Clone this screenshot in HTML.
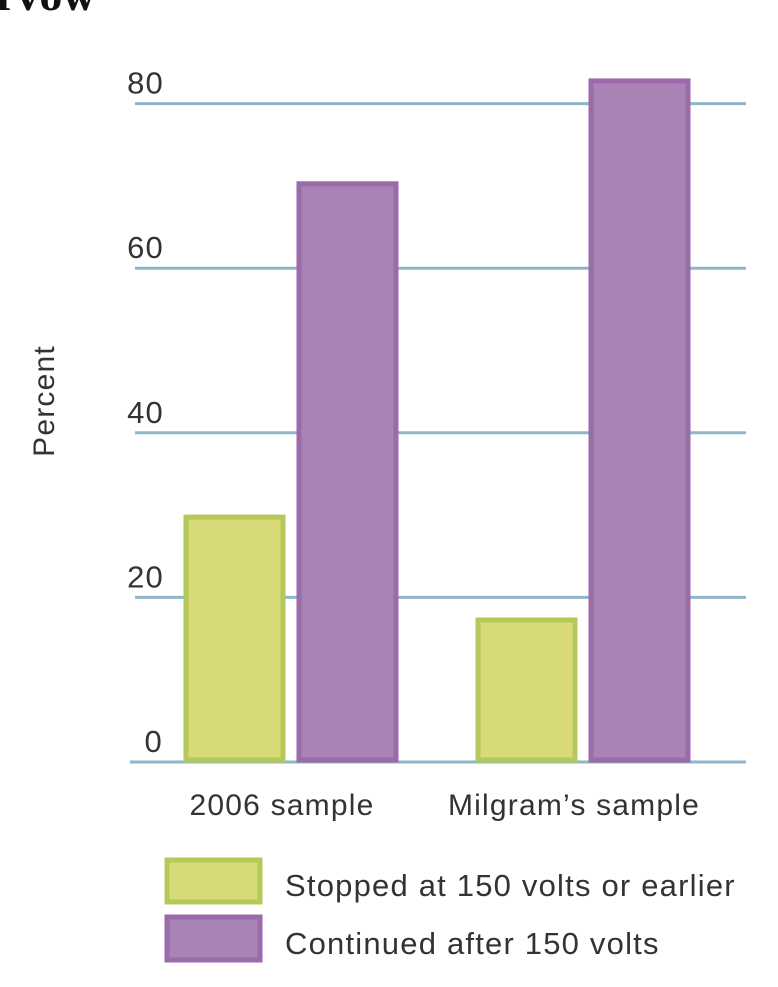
<!DOCTYPE html>
<html><head><meta charset="utf-8"><style>
body{margin:0;width:778px;height:987px;background:#fff;overflow:hidden;position:relative;font-family:"Liberation Sans",sans-serif;}
svg{position:absolute;left:0;top:0}
svg text{letter-spacing:1.2px}
</style></head><body>
<svg width="778" height="987">
<text x="-4" y="10" font-family="Liberation Serif" font-weight="bold" font-size="46" fill="#111" style="letter-spacing:0">rvow</text>
<g id="grid"></g>
<g id="bars"></g>
<text transform="translate(54,401) rotate(-90)" text-anchor="middle" font-size="30" fill="#333">Percent</text>
<g id="cats"></g>
<rect x="167" y="860" width="93" height="42" fill="#d8da78" stroke="#b5c95a" stroke-width="5"/>
<text x="285" y="896" font-size="31" fill="#333">Stopped at 150 volts or earlier</text>
<rect x="167" y="917" width="93" height="43" fill="#a983b5" stroke="#9b6aa9" stroke-width="5"/>
<text x="285" y="954" font-size="31" fill="#333">Continued after 150 volts</text>
</svg>
<script>
const categories=["2006 sample","Milgram\u2019s sample"];
const stopped=[30,17.5];
const continued=[70.5,83];
const ticks=[0,20,40,60,80];
const NS="http://www.w3.org/2000/svg";
const y=v=>762-v*8.23;
const g=document.getElementById('grid'),b=document.getElementById('bars'),c=document.getElementById('cats');
function mk(p,t,a){const e=document.createElementNS(NS,t);for(const k in a)e.setAttribute(k,a[k]);p.appendChild(e);return e;}
ticks.forEach(t=>{
 const l=mk(g,'line',{x1:t===0?130:135,x2:746,y1:y(t),y2:y(t),stroke:'#8fb6c8','stroke-width':3});
 
 
 const tx=mk(g,'text',{x:t===0?163:164,y:y(t)-10,'text-anchor':'end','font-size':31,fill:'#333'});
 tx.textContent=t;
 
 
});
const groupX=[184,476];
categories.forEach((cat,i)=>{
 const x0=groupX[i];
 const r1=mk(b,'rect',{x:x0+2,y:y(stopped[i])+2,width:97,height:y(0)-y(stopped[i])-4,fill:'#d8da78',stroke:'#b5c95a','stroke-width':5});
 
 
 const r2=mk(b,'rect',{x:x0+115,y:y(continued[i])+2,width:97,height:y(0)-y(continued[i])-4,fill:'#a983b5',stroke:'#9b6aa9','stroke-width':5});
 
 
 const t=mk(c,'text',{x:x0+98,y:815,'text-anchor':'middle','font-size':30,fill:'#333'});
 t.textContent=cat;
 
 
});
</script>
</body></html>
